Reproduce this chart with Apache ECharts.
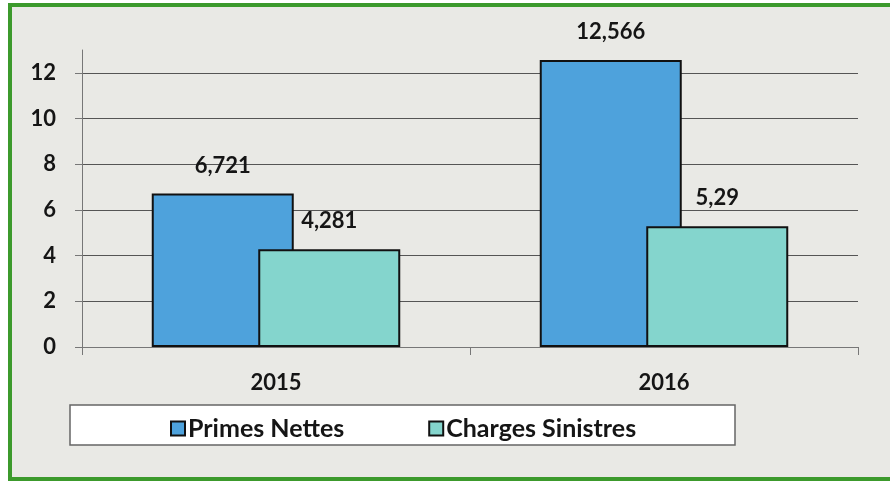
<!DOCTYPE html>
<html>
<head>
<meta charset="utf-8">
<script src="https://cdn.jsdelivr.net/npm/echarts@6/dist/echarts.min.js"></script>
<style>
  html, body { margin: 0; padding: 0; background: #fff; }
  #chart { width: 890px; height: 483px; }
</style>
</head>
<body>
<div id="chart"></div>
<script>
// donnees
var years = ["2015", "2016"];
var primesNettes = [6.721, 12.566];
var chargesSinistres = [4.281, 5.29];
var seriesNames = ["Primes Nettes", "Charges Sinistres"];

var chart = echarts.init(document.getElementById("chart"));

// etiquettes avec virgule decimale
function frLabel(p) {
  return String(p.value).replace(".", ",");
}

var labelStyle = {
  show: true,
  position: "top",
  distance: 17,
  formatter: frLabel,
  fontFamily: "Lato",
  fontWeight: "bold",
  fontSize: 22,
  color: "#151515",
};

var option = {
  textStyle: { fontFamily: "Lato" },
  animation: false,
  graphic: [
    // fond + cadre vert
    {
      type: "rect",
      z: -10,
      shape: { x: 10, y: 5, width: 900, height: 474 },
      style: { fill: "#e9e9e5", stroke: "#3c9a2c", lineWidth: 4 },
    },
    // cadre de la legende
    {
      type: "rect",
      z: -5,
      shape: { x: 70, y: 405, width: 665, height: 40 },
      style: { fill: "#ffffff", stroke: "#666", lineWidth: 1.5 },
    },
  ],
  grid: { left: 82, right: 32, top: 50, bottom: 136 },
  legend: {
    left: 165,
    top: 411,
    itemGap: 84,
    itemWidth: 14,
    itemHeight: 14,
    icon: "rect",
    textStyle: {
      fontFamily: "Lato",
      fontWeight: "bold",
      fontSize: 25,
      color: "#151515",
      padding: [0, 0, 0, -2],
    },
    data: seriesNames,
  },
  xAxis: {
    type: "category",
    data: years,
    axisLine: { lineStyle: { color: "#777", width: 1 } },
    axisTick: { show: true, length: 8, lineStyle: { color: "#777" } },
    axisLabel: {
      margin: 25,
      fontFamily: "Lato",
      fontWeight: "bold",
      fontSize: 22,
      color: "#151515",
    },
  },
  yAxis: {
    type: "value",
    min: 0,
    max: 13,
    interval: 2,
    axisLine: { show: true, lineStyle: { color: "#777", width: 1 } },
    axisTick: { show: true, length: 7, lineStyle: { color: "#777" } },
    splitLine: { showMaxLine: false, lineStyle: { color: "#555", width: 1 } },
    axisLabel: {
      margin: 26,
      showMaxLabel: false,
      formatter: function (v) { return v % 2 === 0 ? v : ""; },
      fontFamily: "Lato",
      fontWeight: "bold",
      fontSize: 22,
      color: "#151515",
    },
  },
  series: [
    {
      name: seriesNames[0],
      type: "bar",
      data: primesNettes,
      barWidth: 142,
      barGap: "-25%",
      itemStyle: { color: "#4ea2dc", borderColor: "#111", borderWidth: 2 },
      label: labelStyle,
    },
    {
      name: seriesNames[1],
      type: "bar",
      data: chargesSinistres,
      barWidth: 142,
      itemStyle: { color: "#84d5cd", borderColor: "#111", borderWidth: 2 },
      label: labelStyle,
    },
  ],
};

chart.setOption(option);
</script>
</body>
</html>
